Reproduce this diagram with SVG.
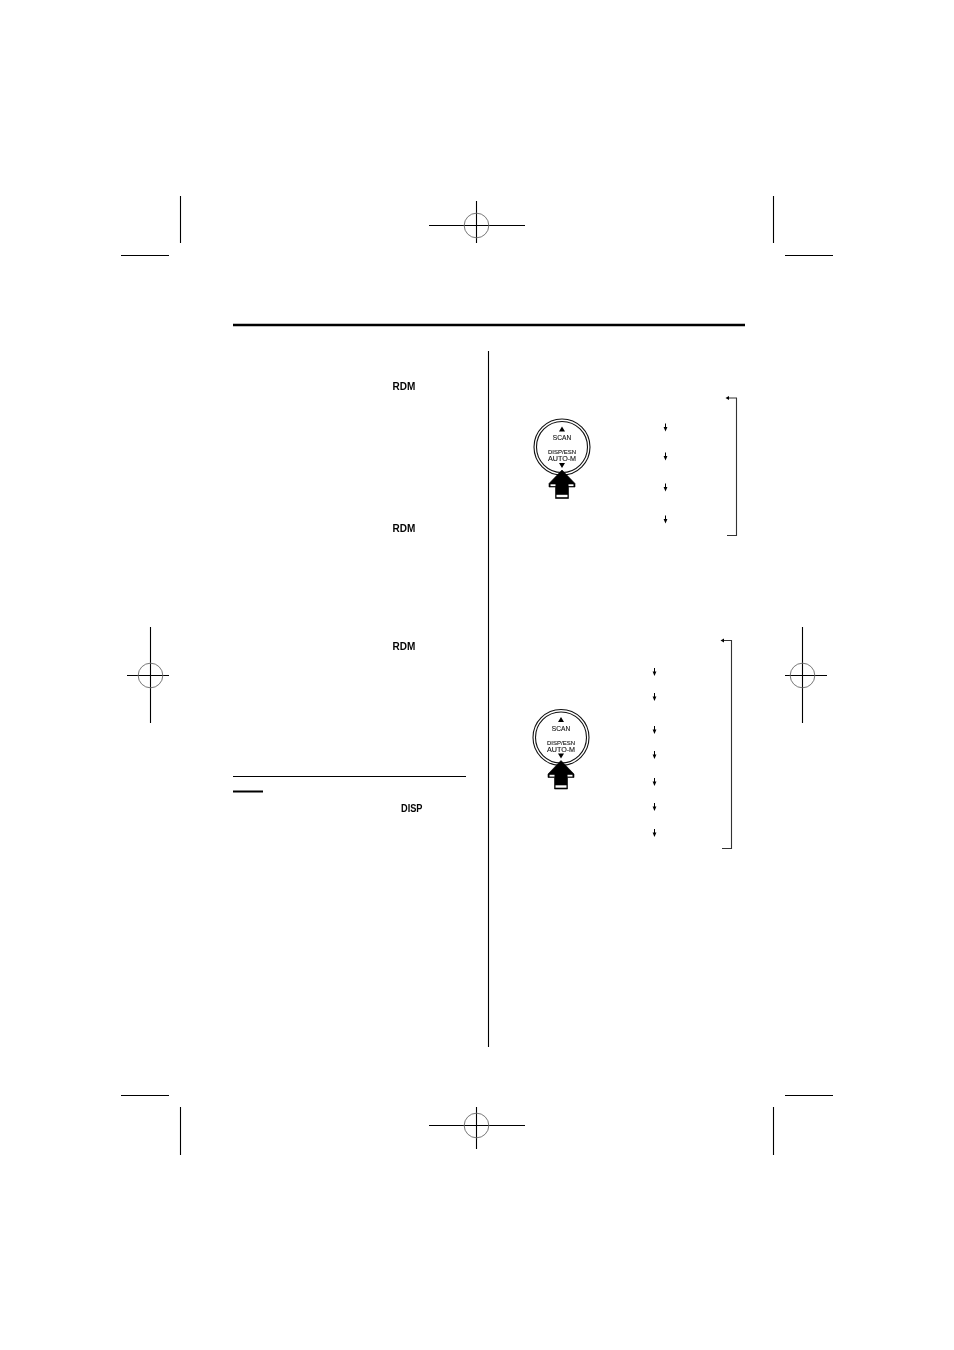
<svg xmlns="http://www.w3.org/2000/svg" width="954" height="1350" viewBox="0 0 954 1350">
<style>
.m{stroke:#000;stroke-width:1.1;fill:none}
.r{stroke:#777;stroke-width:1;fill:none}
.c{stroke:#333;stroke-width:1.1;fill:none}
.o{stroke:#111;stroke-width:1.100;fill:none}
.t{font-family:"Liberation Sans",Arial,sans-serif;fill:#111;text-anchor:middle;stroke:#111;stroke-width:.12}
.b{font-family:"Liberation Sans",Arial,sans-serif;font-weight:bold;font-size:11.500px;fill:#000}
.k{fill:#000;stroke:none}
.g{opacity:.99;mix-blend-mode:multiply}
</style>
<defs>
<g id="dn"><path d="M0-5V0" stroke="#000" stroke-width="1"/><path d="M-1.900-1.500H1.900L0 3Z" fill="#000"/></g>
<g id="btn">
<circle r="28" class="o"/><circle r="25.500" class="o"/>
<path d="M0-20.500l3 5h-6Z" class="k"/>
<g class="g">
<text class="t" y="-7" font-size="6.600">SCAN</text>
<text class="t" y="7.200" font-size="6">DISP/ESN</text>
<text class="t" y="14.300" font-size="7.200">AUTO-M</text>
</g>
<path d="M-3 16h6l-3 5Z" class="k"/>
<path d="M0 23L13 36.500V40H6.500V51.500H-6.500V40H-13V36.500Z" fill="#000" stroke="#000" stroke-width=".6"/>
<rect x="-5.500" y="47.800" width="11" height="2.400" fill="#fff"/>
<rect x="-11.500" y="37.300" width="5" height="1.800" fill="#fff"/><rect x="6.500" y="37.300" width="5" height="1.800" fill="#fff"/>
</g>
</defs>
<g id="crop-marks">
<path class="m" d="M180.500 196V243M121 255.500H169M773.500 196V243M785 255.500H833M429 225.500H525M476.500 201V243"/>
<circle class="r" cx="476.500" cy="225.500" r="12.300"/>
<path class="m" d="M127 675.500H169M150.500 627V723M785 675.500H827M802.500 627V723"/>
<circle class="r" cx="150.500" cy="675.500" r="12.300"/><circle class="r" cx="802.500" cy="675.500" r="12.300"/>
<path class="m" d="M121 1095.500H169M180.500 1107V1155M785 1095.500H833M773.500 1107V1155M429 1125.500H525M476.500 1107V1149"/>
<circle class="r" cx="476.500" cy="1125.500" r="12.300"/>
</g>
<g id="page-rules">
<path d="M233 325H745" stroke="#000" stroke-width="2.400" fill="none"/>
<path class="m" d="M488.500 351V1047"/>
<path class="m" d="M233 776.500H466"/>
<path d="M233 791.500H263" stroke="#000" stroke-width="2" fill="none"/>
</g>
<g id="labels" class="g">
<text class="b" x="392.600" y="389.800" textLength="22.800" lengthAdjust="spacingAndGlyphs">RDM</text>
<text class="b" x="392.600" y="531.800" textLength="22.800" lengthAdjust="spacingAndGlyphs">RDM</text>
<text class="b" x="392.600" y="650.300" textLength="22.800" lengthAdjust="spacingAndGlyphs">RDM</text>
<text class="b" x="401" y="811.700" textLength="21.500" lengthAdjust="spacingAndGlyphs">DISP</text>
</g>
<g id="button-1"><use href="#btn" x="562" y="447"/></g>
<g id="button-2"><use href="#btn" x="561" y="737.500"/></g>
<g id="connectors">
<use href="#dn" x="665.500" y="428.500"/><use href="#dn" x="665.500" y="457.500"/><use href="#dn" x="665.500" y="488.500"/><use href="#dn" x="665.500" y="520.500"/>
<path class="c" d="M728 398H736.500V535.500H727"/><path d="M729 396L725.500 398L729 400Z" class="k"/>
<use href="#dn" x="654.500" y="673"/><use href="#dn" x="654.500" y="698"/><use href="#dn" x="654.500" y="731"/><use href="#dn" x="654.500" y="756"/><use href="#dn" x="654.500" y="783"/><use href="#dn" x="654.500" y="808"/><use href="#dn" x="654.500" y="834"/>
<path class="c" d="M723 640.500H731.500V848.500H722"/><path d="M724 638.500L720.500 640.500L724 642.500Z" class="k"/>
</g>
</svg>
